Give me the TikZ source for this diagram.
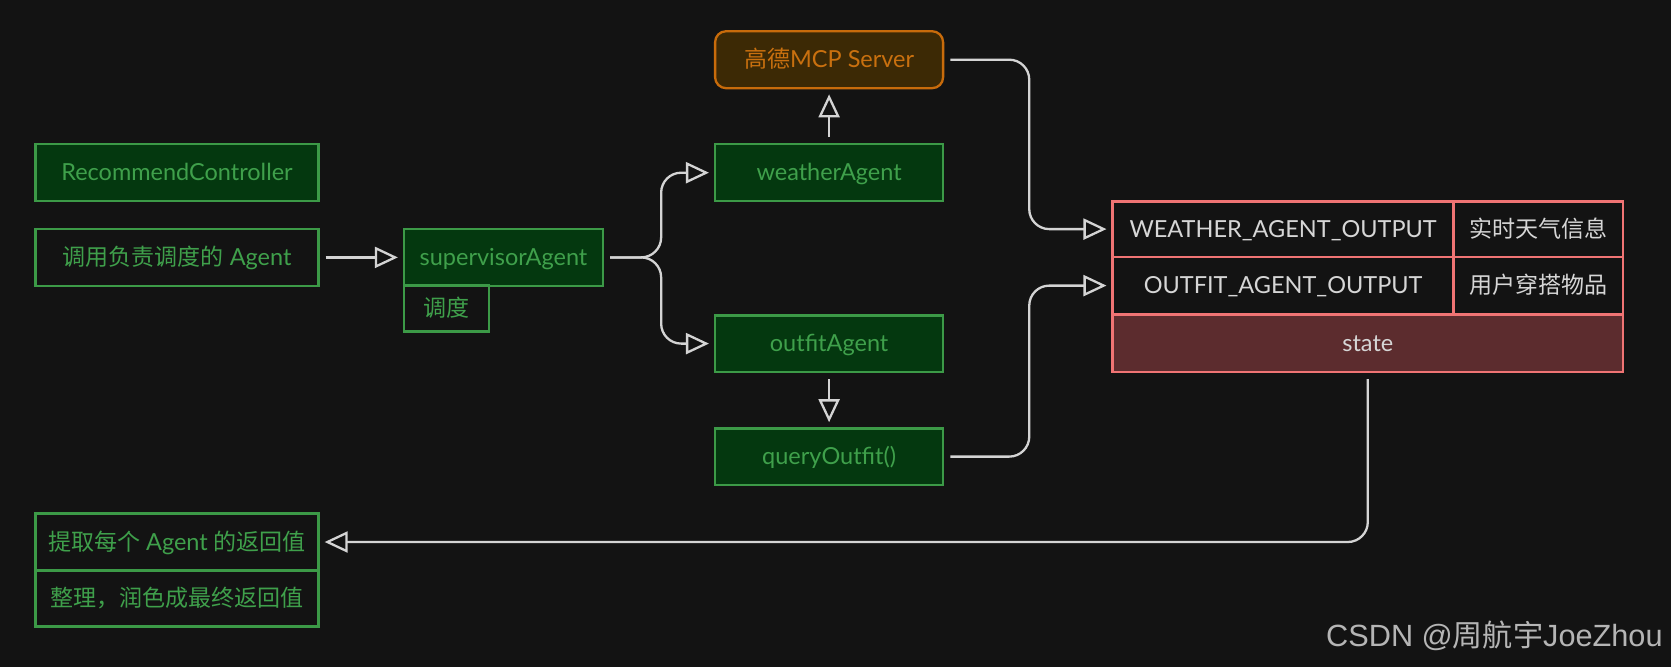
\documentclass[tikz,border=0pt]{standalone}
\usepackage{fontspec}
\usepackage{xcolor}
\setmainfont{Lato}
\newfontfamily\cjk[Scale=0.98]{Noto Sans CJK SC}
\newfontfamily\markfont{Liberation Sans}
\usetikzlibrary{arrows.meta,positioning}

\definecolor{bgdark}{HTML}{131313}
\definecolor{agentfill}{HTML}{04380F}
\definecolor{agentline}{HTML}{3C9A47}
\definecolor{agenttext}{HTML}{3FA04B}
\definecolor{mcpfill}{HTML}{3C2905}
\definecolor{mcpline}{HTML}{C86B0B}
\definecolor{mcptext}{HTML}{C9700F}
\definecolor{stateline}{HTML}{F07474}
\definecolor{statefill}{HTML}{5C2C2E}
\definecolor{celltext}{HTML}{D6D6D6}
\definecolor{linkgray}{HTML}{D4D4D4}
\definecolor{marktext}{HTML}{B5B5B5}

\begin{document}
\begin{tikzpicture}[x=1pt, y=-1pt,
    box/.style={rectangle, draw=agentline, line width=2.3pt, text=agenttext, font=\fontsize{23.5}{28}\selectfont, inner sep=0pt, text height=16.5pt, text depth=0pt, minimum height=57pt},
    agent/.style={box, fill=agentfill},
    server/.style={box, draw=mcpline, fill=mcpfill, text=mcptext, rounded corners=11pt},
    cell/.style={box, draw=stateline, text=celltext},
    link/.style={draw=linkgray, line width=2.3pt, rounded corners=20pt, -{Triangle[open, length=23pt, width=21pt]}, shorten <=6pt, shorten >=5pt}]
    \fill[bgdark] (0,0) rectangle (1671,667);
    \useasboundingbox (0,0) rectangle (1671,667);

    % left column
    \node[agent, minimum width=283pt] (Ctrl) at (177,172.7) {RecommendController};
    \node[box, minimum width=283pt] (Call) at (177,257.4) {{\cjk 调用负责调度的} Agent};
    \node[box, minimum width=283pt] (Extract) at (177,542) {{\cjk 提取每个} Agent {\cjk 的返回值}};
    \node[box, minimum width=283pt, minimum height=56.4pt] (Polish) at (177,598.4) {\cjk 整理，润色成最终返回值};

    % supervisor
    \node[agent, minimum width=199pt, minimum height=56.5pt] (Super) at (503.5,257.4) {supervisorAgent};
    \node[box, minimum width=85pt, minimum height=46pt] (Dispatch) at (446.4,308.6) {\cjk 调度};

    % agents
    \node[server, minimum width=228pt] (Mcp) at (829.1,59.7) {{\cjk 高德}MCP Server};
    \node[agent, minimum width=228pt] (Weather) at (829.1,172.7) {weatherAgent};
    \node[agent, minimum width=228pt, minimum height=56.5pt] (Outfit) at (829.1,343.6) {outfitAgent};
    \node[agent, minimum width=228pt, minimum height=56.5pt] (Query) at (829.1,456.6) {queryOutfit()};

    % state table
    \node[cell, minimum width=341pt, minimum height=55.4pt] (WKey) at (1283.1,229.1) {WEATHER\_AGENT\_OUTPUT};
    \node[cell, minimum width=169.4pt, minimum height=55.4pt] (WVal) at (1538.3,229.1) {\cjk 实时天气信息};
    \node[cell, minimum width=341pt, minimum height=57.6pt] (OKey) at (1283.1,285.6) {OUTFIT\_AGENT\_OUTPUT};
    \node[cell, minimum width=169.4pt, minimum height=57.6pt] (OVal) at (1538.3,285.6) {\cjk 用户穿搭物品};
    \node[cell, fill=statefill, minimum width=510.4pt, minimum height=57.5pt] (State) at (1367.8,343.2) {state};

    \node[font=\markfont\fontsize{30.7}{35}\selectfont, text=marktext, anchor=base west, inner sep=0pt] (Mark) at (1326,646.7) {CSDN @{\cjk 周航宇}JoeZhou};

    % connectors
    \draw[link] (Call) -- (Super);
    \draw[link] (Super.east) -- ++(57,0) |- (Weather.west);
    \draw[link] (Super.east) -- ++(57,0) |- (Outfit.west);
    \draw[link] (Weather.north) -- (Mcp.south);
    \draw[link] (Outfit.south) -- (Query.north);
    \draw[link] (Mcp.east) -- ++(85,0) |- (WKey.west);
    \draw[link] (Query.east) -- ++(85,0) |- (OKey.west);
    \draw[link] (State.south) |- (Extract.east);
\end{tikzpicture}
\end{document}
